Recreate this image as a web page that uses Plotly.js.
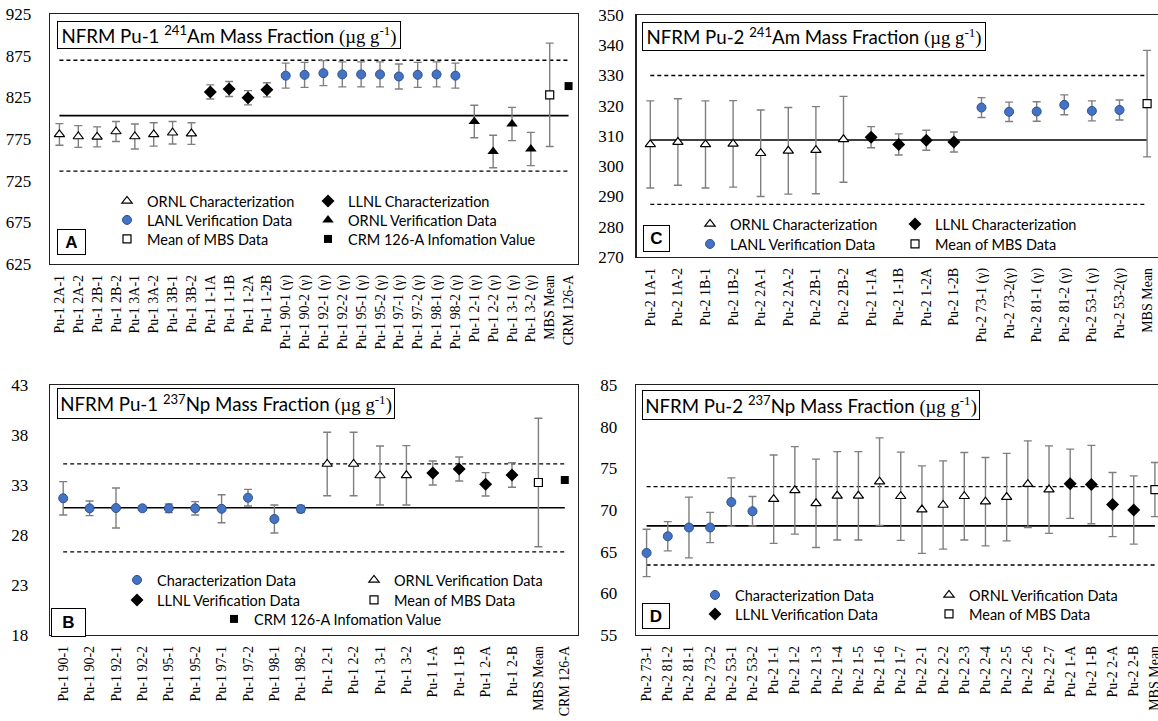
<!DOCTYPE html>
<html><head><meta charset="utf-8">
<script src="https://cdn.plot.ly/plotly-3.0.1.min.js"></script>
<style>html,body{margin:0;padding:0;background:#fff}#chart{width:1158px;height:721px}</style>
</head><body><div id="chart"></div>
<script>
// ---------------- Panel A : NFRM Pu-1 241Am ----------------
const catsA = ['Pu-1 2A-1','Pu-1 2A-2','Pu-1 2B-1','Pu-1 2B-2','Pu-1 3A-1','Pu-1 3A-2','Pu-1 3B-1','Pu-1 3B-2',
  'Pu-1 1-1A','Pu-1 1-1B','Pu-1 1-2A','Pu-1 1-2B',
  'Pu-1 90-1 (γ)','Pu-1 90-2 (γ)','Pu-1 92-1 (γ)','Pu-1 92-2 (γ)','Pu-1 95-1 (γ)','Pu-1 95-2 (γ)','Pu-1 97-1 (γ)','Pu-1 97-2 (γ)','Pu-1 98-1 (γ)','Pu-1 98-2 (γ)',
  'Pu-1 2-1 (γ)','Pu-1 2-2 (γ)','Pu-1 3-1 (γ)','Pu-1 3-2 (γ)','MBS Mean','CRM 126-A'];
const aOrnlChar = [780.5, 778, 777.5, 784, 778, 780.5, 782.5, 781.5];
const aOrnlCharU = [13, 13, 12, 12, 15, 14, 13.5, 13];
const aLlnlChar = [831.5, 835, 824.5, 834];
const aLlnlCharU = [8.5, 9, 8.5, 8.5];
const aLanlVer = [851, 852, 854, 852.5, 852.5, 852.5, 850, 852, 852.5, 851];
const aLanlVerU = [15, 15, 15, 15, 15, 15, 15, 15, 15, 15];
const aOrnlVer = [796, 760, 793, 763];
const aOrnlVerU = [19.5, 19.5, 20, 20];
const aMbs = [828], aMbsU = [62];
const aCrm = [838.5];
const aMean = 803, aLim = 66.5;
const aTicks = [625, 675, 725, 775, 825, 875, 925];

// ---------------- Panel C : NFRM Pu-2 241Am ----------------
const catsC = ['Pu-2 1A-1','Pu-2 1A-2','Pu-2 1B-1','Pu-2 1B-2','Pu-2 2A-1','Pu-2 2A-2','Pu-2 2B-1','Pu-2 2B-2',
  'Pu-2 1-1A','Pu-2 1-1B','Pu-2 1-2A','Pu-2 1-2B',
  'Pu-2 73-1 (γ)','Pu-2 73-2(γ)','Pu-2 81-1 (γ)','Pu-2 81-2 (γ)','Pu-2 53-1 (γ)','Pu-2 53-2(γ)','MBS Mean'];
const cOrnlChar = [307.2, 308, 307.2, 307.4, 304.3, 305.1, 305.3, 308.9];
const cOrnlCharU = [14.4, 14.3, 14.4, 14.3, 14.3, 14.3, 14.4, 14.2];
const cLlnlChar = [309.6, 307.2, 308.6, 308];
const cLlnlCharU = [3.5, 3.5, 3.3, 3.3];
const cLanlVer = [319.4, 318, 318.1, 320.3, 318.3, 318.6];
const cLanlVerU = [3.3, 3.2, 3.2, 3.3, 3.3, 3.3];
const cMbs = [320.7], cMbsU = [17.6];
const cMean = 308.7, cLim = 21.3;
const cTicks = [270, 280, 290, 300, 310, 320, 330, 340, 350];

// ---------------- Panel B : NFRM Pu-1 237Np ----------------
const catsB = ['Pu-1 90-1','Pu-1 90-2','Pu-1 92-1','Pu-1 92-2','Pu-1 95-1','Pu-1 95-2','Pu-1 97-1','Pu-1 97-2','Pu-1 98-1','Pu-1 98-2',
  'Pu-1 2-1','Pu-1 2-2','Pu-1 3-1','Pu-1 3-2','Pu-1 1-A','Pu-1 1-B','Pu-1 2-A','Pu-1 2-B','MBS Mean','CRM 126-A'];
const bChar = [31.67, 30.67, 30.7, 30.67, 30.67, 30.67, 30.62, 31.73, 29.6, 30.6];
const bCharU = [1.67, 0.73, 2.0, 0.2, 0.43, 0.67, 1.4, 0.83, 1.4, 0.35];
const bOrnlVer = [35.1, 35.1, 33.95, 33.97];
const bOrnlVerU = [3.17, 3.17, 2.95, 2.97];
const bLlnlVer = [34.2, 34.6, 33.07, 34.0];
const bLlnlVerU = [1.2, 1.2, 1.17, 1.23];
const bMbs = [33.25], bMbsU = [6.42];
const bCrm = [33.5];
const bMean = 30.72, bLim = 4.4;
const bTicks = [18, 23, 28, 33, 38, 43];

// ---------------- Panel D : NFRM Pu-2 237Np ----------------
const catsD = ['Pu-2 73-1','Pu-2 81-2','Pu-2 81-1','Pu-2 73-2','Pu-2 53-1','Pu-2 53-2',
  'Pu-2 1-1','Pu-2 1-2','Pu-2 1-3','Pu-2 1-4','Pu-2 1-5','Pu-2 1-6','Pu-2 1-7',
  'Pu-2 2-1','Pu-2 2-2','Pu-2 2-3','Pu-2 2-4','Pu-2 2-5','Pu-2 2-6','Pu-2 2-7',
  'Pu-2 1-A','Pu-2 1-B','Pu-2 2-A','Pu-2 2-B','MBS Mean'];
const dChar = [64.85, 66.85, 67.9, 67.9, 70.95, 69.85];
const dCharU = [2.84, 1.75, 3.65, 1.82, 2.9, 1.77];
const dOrnlVer = [71.3, 72.35, 70.8, 71.7, 71.7, 73.4, 71.65, 70.05, 70.6, 71.65, 71.0, 71.55, 73.1, 72.45];
const dOrnlVerU = [5.3, 5.25, 5.3, 5.3, 5.3, 5.25, 5.3, 5.25, 5.3, 5.25, 5.3, 5.25, 5.2, 5.25];
const dLlnlVer = [73.15, 73.05, 70.65, 70.0];
const dLlnlVerU = [4.15, 4.7, 3.85, 4.1];
const dMbs = [72.45], dMbsU = [3.25];
const dMean = 68.1, dLim = 4.7;
const dTicks = [55, 60, 65, 70, 75, 80, 85];

// ---------------- styling ----------------
const W = 1158, H = 721;
const fx = p => p / W, fy = p => 1 - p / H;
const SANS = 'Lato, "Open Sans", sans-serif';
const SERIF = '"Liberation Serif", "Times New Roman", serif';
const ERRC = '#7f7f7f';
const MK = {
  openTri: {symbol: 'triangle-up', size: 9, color: '#fff', line: {color: '#000', width: 1.2}},
  blkTri:  {symbol: 'triangle-up', size: 10, color: '#000', line: {color: '#000', width: 0}},
  diamond: {symbol: 'diamond', size: 10, color: '#000', line: {color: '#000', width: 0}},
  circle:  {symbol: 'circle', size: 9, color: '#4472C4', line: {color: '#2F528F', width: 1}},
  openSq:  {symbol: 'square', size: 8, color: '#fff', line: {color: '#000', width: 1.2}},
  blkSq:   {symbol: 'square', size: 8, color: '#000', line: {color: '#000', width: 0}}
};

// one legend box per entry, placed at (marker x, row centre y) in pixels
const legendSpots = [];
const traces = [];
function series(ax, cats, vals, errs, mk, name, spot) {
  legendSpots.push(spot);
  const id = legendSpots.length === 1 ? 'legend' : 'legend' + legendSpots.length;
  const t = {
    type: 'scatter', mode: 'markers', x: cats, y: vals, name: name,
    xaxis: 'x' + ax, yaxis: 'y' + ax, marker: mk, legend: id, hoverinfo: 'x+y'
  };
  if (errs) t.error_y = {type: 'data', array: errs, visible: true, color: ERRC, thickness: 1.4, width: 4};
  traces.push(t);
}
function refLines(ax, cats, mean, lim) {
  [[mean, 'solid'], [mean + lim, 'dash'], [mean - lim, 'dash']].forEach(([v, dash]) => {
    traces.push({type: 'scatter', mode: 'lines', x: cats, y: cats.map(() => v), xaxis: 'x' + ax, yaxis: 'y' + ax,
      line: {color: '#000', width: dash === 'solid' ? 1.6 : 1.3, dash: dash === 'solid' ? 'solid' : '4px,3px'},
      showlegend: false, hoverinfo: 'skip'});
  });
}

// Panel A (axis 1)
refLines('', catsA, aMean, aLim);
series('', catsA.slice(0, 8), aOrnlChar, aOrnlCharU, MK.openTri, 'ORNL Characterization', [127, 200]);
series('', catsA.slice(8, 12), aLlnlChar, aLlnlCharU, MK.diamond, 'LLNL Characterization', [328, 200]);
series('', catsA.slice(12, 22), aLanlVer, aLanlVerU, MK.circle, 'LANL Verification Data', [127, 219]);
series('', catsA.slice(22, 26), aOrnlVer, aOrnlVerU, MK.blkTri, 'ORNL Verification Data', [328, 219]);
series('', catsA.slice(26, 27), aMbs, aMbsU, MK.openSq, 'Mean of MBS Data', [127, 238]);
series('', catsA.slice(27, 28), aCrm, null, MK.blkSq, 'CRM 126-A Infomation Value', [328, 238]);

// Panel C (axis 2)
refLines('2', catsC, cMean, cLim);
series('2', catsC.slice(0, 8), cOrnlChar, cOrnlCharU, MK.openTri, 'ORNL Characterization', [710, 223]);
series('2', catsC.slice(8, 12), cLlnlChar, cLlnlCharU, MK.diamond, 'LLNL Characterization', [915, 223]);
series('2', catsC.slice(12, 18), cLanlVer, cLanlVerU, MK.circle, 'LANL Verification Data', [710, 243]);
series('2', catsC.slice(18, 19), cMbs, cMbsU, MK.openSq, 'Mean of MBS Data', [915, 243]);

// Panel B (axis 3)
refLines('3', catsB, bMean, bLim);
series('3', catsB.slice(0, 10), bChar, bCharU, MK.circle, 'Characterization Data', [137, 579]);
series('3', catsB.slice(10, 14), bOrnlVer, bOrnlVerU, MK.openTri, 'ORNL Verification Data', [374, 579]);
series('3', catsB.slice(14, 18), bLlnlVer, bLlnlVerU, MK.diamond, 'LLNL Verification Data', [137, 599]);
series('3', catsB.slice(18, 19), bMbs, bMbsU, MK.openSq, 'Mean of MBS Data', [374, 599]);
series('3', catsB.slice(19, 20), bCrm, null, MK.blkSq, 'CRM 126-A Infomation Value', [234, 618]);

// Panel D (axis 4)
refLines('4', catsD, dMean, dLim);
series('4', catsD.slice(0, 6), dChar, dCharU, MK.circle, 'Characterization Data', [715, 594]);
series('4', catsD.slice(6, 20), dOrnlVer, dOrnlVerU, MK.openTri, 'ORNL Verification Data', [949, 594]);
series('4', catsD.slice(20, 24), dLlnlVer, dLlnlVerU, MK.diamond, 'LLNL Verification Data', [715, 613]);
series('4', catsD.slice(24, 25), dMbs, dMbsU, MK.openSq, 'Mean of MBS Data', [949, 613]);

// axes
function xAx(cats, x0, x1, range, anchor) {
  return {type: 'category', categoryorder: 'array', categoryarray: cats, domain: [fx(x0), fx(x1)],
    range: range, anchor: anchor, tickmode: 'array', tickvals: cats, ticktext: cats,
    showline: true, mirror: true, linecolor: '#222', linewidth: 1.3, ticks: '',
    tickangle: -90, tickfont: {family: SERIF, size: 14, color: '#000'}, ticklabelstandoff: 4,
    showgrid: false, zeroline: false, fixedrange: true, automargin: false};
}
function yAx(ticks, y0, y1, mirror, anchor, standoff) {
  return {range: [ticks[0], ticks[ticks.length - 1]], tickvals: ticks, domain: [fy(y1), fy(y0)],
    anchor: anchor, showline: true, mirror: mirror, linecolor: '#222', linewidth: 1.3, ticks: '',
    tickfont: {family: SERIF, size: 17, color: '#000'}, ticklabelstandoff: standoff,
    showgrid: false, zeroline: false, fixedrange: true, automargin: false};
}
function box(text, x0, y0, w, h, size, bold) {
  return {xref: 'paper', yref: 'paper', x: fx(x0), y: fy(y0), xanchor: 'left', yanchor: 'top',
    text: bold ? '<b>' + text + '</b>' : text, showarrow: false, width: w, height: h,
    align: 'center', valign: 'middle', bordercolor: '#000', borderwidth: 1, borderpad: 0,
    bgcolor: '#fff', font: {family: bold ? '"Liberation Sans", Arial, sans-serif' : SANS, size: size, color: '#000'}};
}
const unit = ' <span style="font-family:\'Liberation Serif\'">(µg g<sup>-1</sup>)</span>';

const layout = {
  width: W, height: H, margin: {l: 0, r: 0, t: 0, b: 0, autoexpand: false}, paper_bgcolor: '#fff', plot_bgcolor: '#fff',
  showlegend: true,
  xaxis:  xAx(catsA, 50, 578, [-0.5, catsA.length - 0.5], 'y'),
  yaxis:  yAx(aTicks, 14, 264, true, 'x', 14),
  xaxis2: xAx(catsC, 636.5, 1158, [-0.5, -0.5 + (1158 - 636.5) / 27.6], 'y2'),
  yaxis2: yAx(cTicks, 15, 257, false, 'x2', 8),
  xaxis3: xAx(catsB, 50, 578, [-0.5, catsB.length - 0.5], 'y3'),
  yaxis3: yAx(bTicks, 385, 635, true, 'x3', 17),
  xaxis4: xAx(catsD, 636, 1158, [-0.5, -0.5 + (1158 - 636) / 21.18], 'y4'),
  yaxis4: yAx(dTicks, 385, 635, false, 'x4', 14),
  annotations: [
    box('NFRM Pu-1 <sup>241</sup>Am Mass Fraction' + unit, 57, 21, 342, 26, 18.7, false),
    box('NFRM Pu-2 <sup>241</sup>Am Mass Fraction' + unit, 642, 22, 342, 27, 18.7, false),
    box('NFRM Pu-1 <sup>237</sup>Np Mass Fraction' + unit, 57, 388, 336, 29, 18.7, false),
    box('NFRM Pu-2 <sup>237</sup>Np Mass Fraction' + unit, 642, 390, 336, 28, 18.7, false),
    box('A', 57, 229, 27, 24, 17, true),
    box('C', 643, 225, 25, 25, 17, true),
    box('B', 51, 608, 33, 27, 17, true),
    box('D', 642, 603, 26, 24, 17, true)
  ]
};
legendSpots.forEach(([xm, yr], i) => {
  layout[i === 0 ? 'legend' : 'legend' + (i + 1)] = {
    x: fx(xm - 20), y: fy(yr - 15), xanchor: 'left', yanchor: 'top', bgcolor: 'rgba(0,0,0,0)',
    borderwidth: 0, font: {family: SANS, size: 14.5, color: '#000'}, itemwidth: 30, orientation: 'v'
  };
});
Plotly.newPlot('chart', traces, layout, {staticPlot: true, displayModeBar: false});
</script>
</body></html>
